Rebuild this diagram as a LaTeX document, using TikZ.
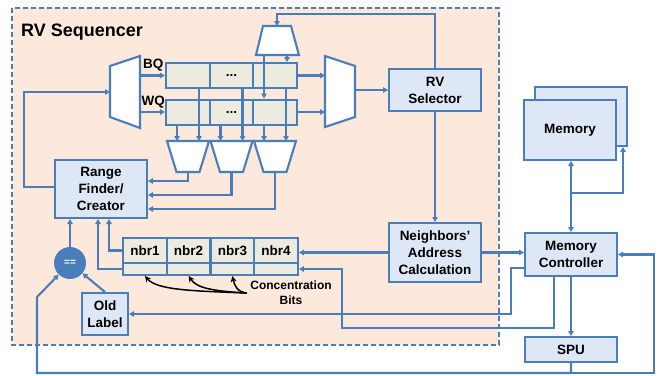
\documentclass[tikz,border=0pt]{standalone}
\usepackage{fontspec}
\setmainfont{Liberation Sans}
\usepackage{xcolor}
\usetikzlibrary{arrows.meta,positioning,calc}
\definecolor{lineblue}{HTML}{4A7EBB}
\definecolor{boxblue}{HTML}{DEE7F5}
\definecolor{queuetan}{HTML}{EDEBE0}
\definecolor{seqorange}{HTML}{FCE9DB}

\begin{document}
\begin{tikzpicture}[x=1pt,y=-1pt,
    font=\fontsize{13.5}{17}\selectfont\bfseries,
    wire/.style={draw=lineblue, line width=2.1pt},
    arr/.style={wire, -{Triangle[length=5pt,width=5.5pt]}},
    blk/.style={draw=lineblue, line width=2pt, fill=boxblue, align=center, inner sep=0pt},
    cell/.style={draw=lineblue, line width=2pt, fill=queuetan, inner sep=0pt, minimum width=43.7pt},
    mux/.style={draw=lineblue, line width=2.1pt, fill=white, line join=miter},
    bitarr/.style={black, line width=1.5pt, -{Stealth[length=6pt,width=6pt]}}]
    \useasboundingbox (0,0) rectangle (661,375);

    % RV Sequencer 背景框
    \draw[draw=lineblue, line width=1.6pt, dash pattern=on 5pt off 3pt, fill=seqorange] (12,8) rectangle (499,345);
    \node[anchor=base west, inner sep=0pt, font=\fontsize{18}{20}\selectfont\bfseries] (title) at (21,36) {RV Sequencer};

    % 三个选择器（梯形）
    \draw[mux] (110,66) -- (140,56) -- (140,128) -- (110,117) -- cycle;
    \coordinate (imuxl) at (110,92);
    \coordinate (imuxr) at (140,92);
    \draw[mux] (325,56) -- (355,66) -- (355,117) -- (325,127) -- cycle;
    \coordinate (omuxl) at (325,92);
    \coordinate (omuxr) at (355,90);
    \draw[mux] (263,26) -- (291,26) -- (299,55) -- (256,55) -- cycle;
    \coordinate (tmuxin) at (277,26);
    \coordinate (tmo1) at (264,55);
    \coordinate (tmo2) at (287,55);
    \foreach \k/\cx in {1/188,2/231.5,3/275} {
        \draw[mux] (\cx-21,141) -- (\cx+21,141) -- (\cx+11.5,172) -- (\cx-11.5,172) -- cycle;
        \coordinate (bmi\k) at (\cx,141);
        \coordinate (bmo\k) at (\cx,172);
    }

    % BQ / WQ 队列
    \foreach \q/\y in {bq/75.5, wq/112} {
        \node[cell, minimum height=25pt] (\q1) at (187.8,\y) {};
        \node[cell, minimum height=25pt] (\q2) at (231.5,\y) {...};
        \node[cell, minimum height=25pt] (\q3) at (275.2,\y) {};
    }
    \node[anchor=base west, inner sep=0pt] (bqlbl) at (143,68.5) {BQ};
    \node[anchor=base west, inner sep=0pt] (wqlbl) at (141.5,105) {WQ};

    % 邻居表
    \foreach \k/\x in {1/144.9, 2/188.6, 3/232.4, 4/276.1} {
        \node[cell, minimum height=25pt] (nb\k) at (\x,250.5) {nbr\k};
        \node[cell, minimum height=12pt] (cb\k) at (\x,269) {};
    }

    % 方框
    \node[blk, minimum width=92pt, minimum height=58pt] (rf) at (101,189) {Range\\Finder/\\Creator};
    \node[blk, minimum width=92pt, minimum height=42pt] (rvsel) at (435,90) {RV\\Selector};
    \node[blk, minimum width=92pt, minimum height=59pt] (nac) at (435,252.5) {Neighbors'\\Address\\Calculation};
    \node[blk, minimum width=92pt, minimum height=43pt] (memctl) at (571,254.5) {Memory\\Controller};
    \node[blk, minimum width=92pt, minimum height=25pt] (spu) at (571,349.5) {SPU};
    \node[blk, minimum width=92pt, minimum height=59pt] (memback) at (581,116.5) {};
    \node[blk, minimum width=92pt, minimum height=60pt] (mem) at (570,130) {Memory};
    \node[blk, minimum width=46pt, minimum height=42pt] (oldlbl) at (105,314) {Old\\Label};
    \node[circle, fill=lineblue, minimum size=32pt, inner sep=0pt, text=white, font=\fontsize{10}{12}\selectfont\bfseries] (eq) at (70,263) {==};

    % 队列连线
    \draw[arr] (imuxr |- bq1.west) -- (bq1.west);
    \draw[arr] (imuxr |- wq1.west) -- (wq1.west);
    \draw[arr] (bq3.east) -- (bq3.east -| omuxl);
    \draw[arr] (wq3.east) -- (wq3.east -| omuxl);
    \draw[arr] (tmo1) -- (tmo1 |- wq3.north);
    \draw[arr] (tmo2) -- (tmo2 |- bq3.north);
    \foreach \k in {1,2,3} {
        \draw[arr] ([xshift=-11pt]bmi\k |- wq\k.south) -- ([xshift=-11pt]bmi\k);
        \draw[arr] ([xshift=11pt]bmi\k |- bq\k.south) -- ([xshift=11pt]bmi\k);
    }
    \draw[arr] (bmo1) |- ($(rf.east)+(0,-8)$);
    \draw[arr] (bmo2) |- ($(rf.east)+(0,6)$);
    \draw[arr] (bmo3) |- ($(rf.east)+(0,20)$);

    % RV Selector 输出
    \draw[arr] (omuxr) -- (rvsel.west);
    \draw[arr] (rvsel.north) -- ++(0,-54) -| (tmuxin);
    \draw[arr] (rvsel.south) -- (nac.north);
    \draw[arr] (nac.west) -- (nac.west -| nb4.east);
    \draw[arr] (nac.east) -- (nac.east -| memctl.west);

    % Range Finder 回路
    \draw[arr] ($(rf.west)+(0,-2)$) -- ++(-30,0) |- (imuxl);
    \draw[arr] (nb1.west) -| ($(rf.south)+(8,0)$);
    \draw[arr] (cb1.west) -| ($(rf.south)+(-3,0)$);
    \draw[arr] (eq.north) -- (eq.north |- rf.south);
    \draw[arr] (oldlbl.north) -- (eq);

    % 存储器与控制器
    \draw[wire, {Triangle[length=5pt,width=5.5pt]}-{Triangle[length=5pt,width=5.5pt]}] (memctl.north) -- (memctl.north |- mem.south);
    \draw[arr] ($(memctl.north)+(0,-39)$) -| ($(memback.south)+(42,0)$);
    \draw[arr] (memctl.south) -- (spu.north);
    \draw[arr] ($(memctl.west)+(0,13.5)$) -- ++(-13,0) |- (oldlbl.east);
    \draw[arr] ($(memctl.south)+(-17,0)$) -- ++(0,51) -| ($(cb4.east)+(43,0)$) -- (cb4.east);

    % SPU 反馈
    \coordinate (fbl) at (37,373);
    \coordinate (fbr) at (654,373);
    \draw[arr] (spu.south) |- (fbl) -- ++(0,-76) -- (eq);
    \draw[arr] (spu.south) |- (fbr) |- (memctl.east);

    % Concentration Bits
    \node[align=center, font=\fontsize{12}{15}\selectfont\bfseries] (cbits) at (291,293) {Concentration\\Bits};
    \draw[bitarr] (cbits.west) .. controls +(-55,-2) and +(12,14) .. (cb1.south);
    \draw[bitarr] (cbits.west) .. controls +(-35,-2) and +(8,12) .. (cb2.south);
    \draw[bitarr] (cbits.west) .. controls +(-10,-1) and +(2,9) .. (cb3.south);
\end{tikzpicture}
\end{document}
